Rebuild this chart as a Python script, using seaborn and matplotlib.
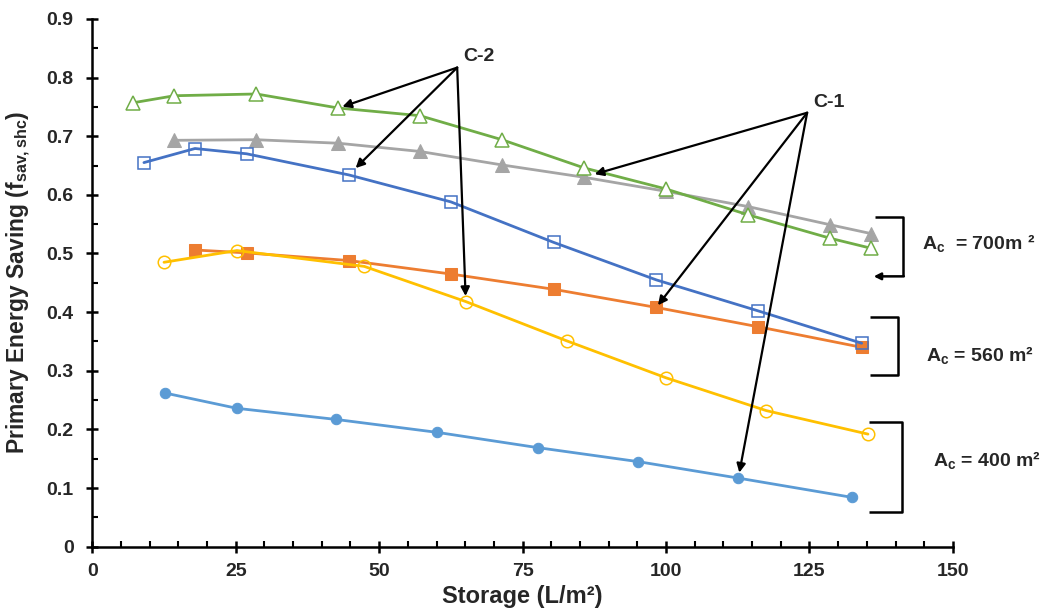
import matplotlib
matplotlib.use("Agg")
import matplotlib.pyplot as plt
from matplotlib.ticker import MultipleLocator
import seaborn as sns

# Storage volume per collector area (L/m2) and primary energy saving for each case
x_c2_700 = [7.1, 14.3, 28.6, 42.9, 57.1, 71.4, 85.7, 100.0, 114.3, 128.6, 135.7]
y_c2_700 = [0.757, 0.769, 0.772, 0.748, 0.735, 0.694, 0.646, 0.610, 0.566, 0.526, 0.509]
x_c1_700 = [14.3, 28.6, 42.9, 57.1, 71.4, 85.7, 100.0, 114.3, 128.6, 135.7]
y_c1_700 = [0.693, 0.694, 0.688, 0.674, 0.651, 0.630, 0.606, 0.580, 0.549, 0.534]
x_c2_560 = [9.0, 17.9, 26.9, 44.7, 62.5, 80.4, 98.3, 116.1, 134.1]
y_c2_560 = [0.655, 0.679, 0.670, 0.634, 0.588, 0.519, 0.455, 0.402, 0.347]
x_c1_560 = [17.9, 26.9, 44.7, 62.5, 80.4, 98.3, 116.1, 134.1]
y_c1_560 = [0.506, 0.501, 0.488, 0.465, 0.439, 0.408, 0.375, 0.340]
x_c2_400 = [12.5, 25.2, 47.4, 65.1, 82.7, 100.0, 117.5, 135.2]
y_c2_400 = [0.485, 0.505, 0.478, 0.418, 0.351, 0.288, 0.232, 0.192]
x_c1_400 = [12.7, 25.2, 42.5, 60.1, 77.6, 95.2, 112.6, 132.5]
y_c1_400 = [0.262, 0.236, 0.217, 0.195, 0.169, 0.145, 0.117, 0.084]

x_ticks = [0, 25, 50, 75, 100, 125, 150]
y_ticks = [0, 0.1, 0.2, 0.3, 0.4, 0.5, 0.6, 0.7, 0.8, 0.9]
area_labels = ["A$_c$  = 700m ²", "A$_c$ = 560 m²", "A$_c$ = 400 m²"]

sns.set_style("white")
plt.rcParams["font.family"] = ["Liberation Sans", "DejaVu Sans"]
plt.rcParams["mathtext.default"] = "regular"

fig = plt.figure(figsize=(10.5, 6.14), dpi=100)
ax = fig.add_axes([0.0879, 0.1096, 0.8196, 0.8596])

lw = 2.0
# C-1, 400 m2
sns.lineplot(x=x_c1_400, y=y_c1_400, ax=ax, color="#5B9BD5", lw=lw, marker="o",
             markersize=7.5, markerfacecolor="#5B9BD5", markeredgecolor="#5B9BD5")
# C-1, 560 m2
sns.lineplot(x=x_c1_560, y=y_c1_560, ax=ax, color="#ED7D31", lw=lw, marker="s",
             markersize=8, markerfacecolor="#ED7D31", markeredgecolor="#ED7D31")
# C-1, 700 m2
sns.lineplot(x=x_c1_700, y=y_c1_700, ax=ax, color="#A5A5A5", lw=lw, marker="^",
             markersize=9.5, markerfacecolor="#A5A5A5", markeredgecolor="#A5A5A5")
# C-2, 400 m2
sns.lineplot(x=x_c2_400, y=y_c2_400, ax=ax, color="#FFC000", lw=lw, marker="o",
             markersize=9, markerfacecolor="none", markeredgecolor="#FFC000",
             markeredgewidth=1.1)
# C-2, 560 m2
sns.lineplot(x=x_c2_560, y=y_c2_560, ax=ax, color="#4472C4", lw=lw, marker="s",
             markersize=9, markerfacecolor="none", markeredgecolor="#4472C4",
             markeredgewidth=1.1)
# C-2, 700 m2
sns.lineplot(x=x_c2_700, y=y_c2_700, ax=ax, color="#70AD47", lw=lw, marker="^",
             markersize=10, markerfacecolor="white", markeredgecolor="#70AD47",
             markeredgewidth=1.1)

ax.set_xlim(0, 150)
ax.set_ylim(0, 0.9)
ax.set_xticks(x_ticks)
ax.set_yticks(y_ticks)
ax.set_xticklabels([str(v) for v in x_ticks])
ax.set_yticklabels(["0" if v == 0 else f"{v:.1f}" for v in y_ticks])
ax.xaxis.set_minor_locator(MultipleLocator(5))
ax.yaxis.set_minor_locator(MultipleLocator(0.05))

for side in ("top", "right"):
    ax.spines[side].set_visible(False)
for side in ("left", "bottom"):
    ax.spines[side].set_linewidth(1.8)
    ax.spines[side].set_color("black")

ax.tick_params(which="major", direction="inout", length=9, width=1.8, color="black",
               labelsize=14)
ax.tick_params(which="minor", direction="in", length=4, width=1.5, color="black")
ax.tick_params(axis="x", which="major", pad=7)
ax.tick_params(axis="y", which="major", pad=9)
ax.tick_params(which="both", bottom=True, left=True)
for lab in ax.get_xticklabels() + ax.get_yticklabels():
    lab.set_fontweight("bold")

ax.set_xlabel("Storage (L/m²)", fontsize=17, fontweight="bold", labelpad=4)
ax.set_ylabel("Primary Energy Saving (f$_{sav,shc}$)", fontsize=16.5,
              fontweight="bold", labelpad=10)

# Callout arrows for the two configurations
arrow_kw = dict(arrowstyle="-|>", color="black", lw=1.6, mutation_scale=13, shrinkA=0)
c2_apex = (63.6, 0.817)
for (px, py, sb) in [(x_c2_700[3], y_c2_700[3], 3),
                     (x_c2_560[3], y_c2_560[3], 7),
                     (x_c2_400[3], y_c2_400[3], 4)]:
    ax.annotate("", xy=(px, py), xytext=c2_apex,
                arrowprops=dict(arrow_kw, shrinkB=sb))
ax.text(64.6, 0.836, "C-2", fontsize=14, fontweight="bold", ha="left", va="center")

c1_apex = (124.6, 0.740)
for (px, py, sb) in [(x_c1_700[5], y_c1_700[5], 8),
                     (x_c1_560[5], y_c1_560[5], 2),
                     (x_c1_400[6], y_c1_400[6], 4)]:
    ax.annotate("", xy=(px, py), xytext=c1_apex,
                arrowprops=dict(arrow_kw, shrinkB=sb))
ax.text(125.6, 0.757, "C-1", fontsize=14, fontweight="bold", ha="left", va="center")

# Brackets grouping the curves by collector area
bk = dict(color="black", lw=1.8, clip_on=False, solid_capstyle="butt")
ax.plot([136.4, 141.3, 141.3], [0.563, 0.563, 0.461], **bk)
ax.annotate("", xy=(136.2, 0.461), xytext=(141.3 + 0.15, 0.461),
            arrowprops=dict(arrowstyle="-|>", color="black", lw=1.8,
                            mutation_scale=10, shrinkA=0, shrinkB=0),
            annotation_clip=False)
ax.plot([135.6, 140.5, 140.5, 135.6], [0.392, 0.392, 0.293, 0.293], **bk)
ax.plot([135.3, 141.1, 141.1, 135.3], [0.212, 0.212, 0.060, 0.060], **bk)

ax.text(144.6, 0.518, area_labels[0], fontsize=14, fontweight="bold",
        ha="left", va="center", clip_on=False)
ax.text(145.4, 0.327, area_labels[1], fontsize=14, fontweight="bold",
        ha="left", va="center", clip_on=False)
ax.text(146.5, 0.148, area_labels[2], fontsize=14, fontweight="bold",
        ha="left", va="center", clip_on=False)

fig.savefig("out.png", dpi=100, facecolor="white")
